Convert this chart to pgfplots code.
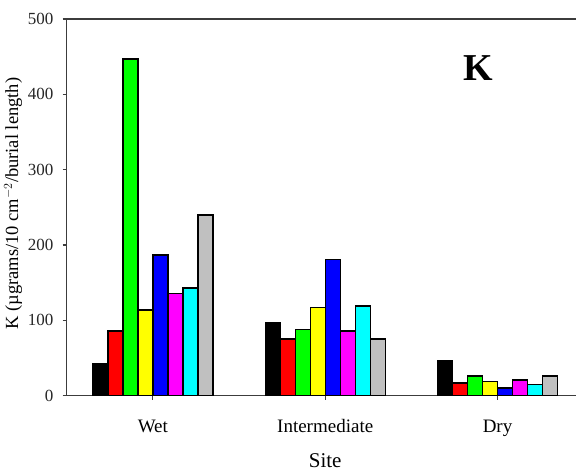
\documentclass[border=0pt]{standalone}
\usepackage{pgfplots}
\pgfplotsset{compat=1.18}
\usepackage{fontspec}
\setmainfont{Liberation Serif}
\definecolor{axgray}{RGB}{60,60,60}
\definecolor{bgray}{RGB}{192,192,192}
\definecolor{cgreen}{RGB}{0,255,0}
\definecolor{cyellow}{RGB}{255,255,0}
\definecolor{cblue}{RGB}{0,0,255}
\definecolor{cred}{RGB}{255,0,0}
\definecolor{cmag}{RGB}{255,0,255}
\definecolor{ccyan}{RGB}{0,255,255}
\begin{document}
\begin{tikzpicture}[x=1pt,y=1pt]
\useasboundingbox (0,0) rectangle (576,471);
\begin{axis}[
  at={(66.7pt,75.3pt)}, anchor=south west,
  scale only axis, width=517pt, height=376.7pt,
  ybar=0pt, bar width=15pt,
  xmin=-0.5, xmax=2.5, ymin=0, ymax=500,
  xtick={0,1,2}, xticklabels={Wet,Intermediate,Dry},
  ytick={0,100,200,300,400,500},
  xtick pos=bottom, ytick pos=left,
  tick align=outside, major tick length=4pt,
  tick style={axgray, line width=1.2pt},
  axis line style={axgray, line width=1.5pt},
  /pgf/number format/assume math mode=true,
  yticklabel style={font=\fontsize{17}{17}\selectfont, anchor=east, inner sep=0pt, xshift=-9pt, text=black!85},
  xticklabel style={font=\fontsize{19}{19}\selectfont, anchor=base, inner sep=0pt, yshift=-32.6pt},
  xlabel={Site},
  xlabel style={font=\fontsize{21}{21}\selectfont, at={(rel axis cs:0.5,0)}, anchor=base, inner sep=0pt, yshift=-72pt},
  ylabel={K (µgrams/10 cm$^{-2}$/burial length)},
  ylabel style={font=\fontsize{18.5}{18.5}\selectfont, at={(rel axis cs:0,0.51)}, anchor=center, inner sep=0pt, yshift=53.5pt},
  every axis plot/.append style={draw=black, line width=1.4pt},
  clip=false,
]
\addplot[fill=black] coordinates {(0,43) (1,97) (2,46)};
\addplot[fill=cred] coordinates {(0,86) (1,75) (2,17)};
\addplot[fill=cgreen] coordinates {(0,447) (1,88) (2,26)};
\addplot[fill=cyellow] coordinates {(0,114) (1,117) (2,19)};
\addplot[fill=cblue] coordinates {(0,187) (1,181) (2,10)};
\addplot[fill=cmag] coordinates {(0,136) (1,86) (2,21)};
\addplot[fill=ccyan] coordinates {(0,143) (1,119) (2,15)};
\addplot[fill=bgray] coordinates {(0,240) (1,75) (2,26)};
\node[font=\fontsize{38}{38}\selectfont\bfseries, anchor=center] at (rel axis cs:0.7956,0.87) {K};
\end{axis}
\end{tikzpicture}
\end{document}
